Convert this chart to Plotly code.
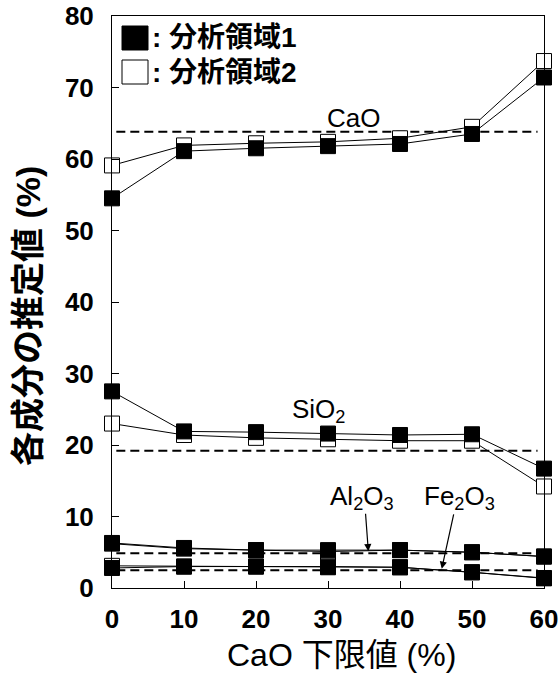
import plotly.graph_objects as go

# CaO lower limit (%) on the x axis
cao_limit = [0, 10, 20, 30, 40, 50, 60]

# Estimated component contents (%) for analysis region 1 and region 2
cao_r1 = [54.5, 61.1, 61.5, 61.8, 62.1, 63.5, 71.4]
cao_r2 = [59.1, 61.9, 62.2, 62.4, 62.9, 64.5, 73.7]
sio2_r1 = [27.5, 21.9, 21.8, 21.6, 21.4, 21.5, 16.7]
sio2_r2 = [23.0, 21.4, 21.0, 20.8, 20.6, 20.6, 14.2]
al2o3_r1 = [6.3, 5.6, 5.3, 5.3, 5.3, 5.0, 4.4]
al2o3_r2 = [6.2, 5.5, 5.3, 5.1, 5.3, 5.0, 4.4]
fe2o3_r1 = [2.8, 3.0, 3.0, 2.9, 2.9, 2.2, 1.35]
fe2o3_r2 = [3.1, 3.0, 3.0, 3.0, 2.9, 2.2, 1.4]

# Reference levels drawn as dashed lines
ref_levels = {"CaO": 63.8, "SiO2": 19.2, "Al2O3": 4.85, "Fe2O3": 2.5}

legend_labels = [": 分析領域1", ": 分析領域2"]
x_title = "CaO 下限値 (%)"
y_title = "各成分の推定値 (%)"
y_ticks = [0, 10, 20, 30, 40, 50, 60, 70, 80]
x_ticks = [0, 10, 20, 30, 40, 50, 60]

W, H = 560, 677
L, R, T, B = 112, 16, 16, 89
PW, PH = W - L - R, H - T - B

LAT = "Liberation Sans, Arial, Noto Sans CJK JP, sans-serif"
CJK = "Liberation Sans, Noto Sans CJK JP, sans-serif"


def px_x(p):
    return (p - L) / PW


def px_y(p):
    return (T + PH - p) / PH


fig = go.Figure()

region2 = [cao_r2, sio2_r2, al2o3_r2, fe2o3_r2]
region1 = [cao_r1, sio2_r1, al2o3_r1, fe2o3_r1]

for ys in region2:
    fig.add_trace(go.Scatter(
        x=cao_limit, y=ys, mode="lines+markers", cliponaxis=False,
        line=dict(color="black", width=1),
        marker=dict(symbol="square", size=15, color="white",
                    line=dict(color="black", width=1)),
        showlegend=False, hoverinfo="skip"))

for ys in region1:
    fig.add_trace(go.Scatter(
        x=cao_limit, y=ys, mode="lines+markers", cliponaxis=False,
        line=dict(color="black", width=1),
        marker=dict(symbol="square", size=15, color="black",
                    line=dict(color="black", width=1)),
        showlegend=False, hoverinfo="skip"))

shapes = []
for level in ref_levels.values():
    shapes.append(dict(type="line", xref="paper", yref="y",
                       x0=0.01, x1=0.985, y0=level, y1=level,
                       line=dict(color="black", width=2, dash="9px,5px"),
                       layer="below"))

# Legend swatches
shapes.append(dict(type="rect", xref="paper", yref="paper",
                   x0=px_x(122), x1=px_x(148), y0=px_y(50), y1=px_y(26),
                   fillcolor="black", line=dict(color="black", width=1)))
shapes.append(dict(type="rect", xref="paper", yref="paper",
                   x0=px_x(122), x1=px_x(148), y0=px_y(84), y1=px_y(60),
                   fillcolor="white", line=dict(color="black", width=1)))

annotations = []
for label, py in zip(legend_labels, [38, 72]):
    annotations.append(dict(
        text=f"<b>{label}</b>", xref="paper", yref="paper",
        x=px_x(150), y=px_y(py), xanchor="left", yanchor="middle",
        showarrow=False, font=dict(family=CJK, size=28, color="black")))

# Component labels
annotations += [
    dict(text="CaO", x=33.5, y=65.8, xanchor="center", yanchor="middle",
         showarrow=False, font=dict(family=LAT, size=26, color="black")),
    dict(text="SiO<sub>2</sub>", x=24.7, y=24.8, xanchor="left",
         yanchor="middle", showarrow=False,
         font=dict(family=LAT, size=26, color="black")),
    dict(text="Al<sub>2</sub>O<sub>3</sub>", x=30.0, y=12.6, xanchor="left",
         yanchor="middle", showarrow=False,
         font=dict(family=LAT, size=26, color="black")),
    dict(text="Fe<sub>2</sub>O<sub>3</sub>", x=43.0, y=12.6, xanchor="left",
         yanchor="middle", showarrow=False,
         font=dict(family=LAT, size=26, color="black")),
]

# Pointer arrows from labels to the Al2O3 and Fe2O3 reference lines
for (hx, hy, tx, ty) in [(35.6, ref_levels["Al2O3"] + 0.3, 35.2, 10.6),
                         (45.8, ref_levels["Fe2O3"] + 0.2, 47.5, 10.5)]:
    annotations.append(dict(
        text="", x=hx, y=hy, ax=tx, ay=ty, xref="x", yref="y",
        axref="x", ayref="y", showarrow=True, arrowhead=2,
        arrowsize=1.2, arrowwidth=1.2, arrowcolor="black"))

# Axis titles
annotations.append(dict(
    text=x_title, xref="paper", yref="paper", x=px_x(341), y=px_y(655),
    xanchor="center", yanchor="middle", showarrow=False,
    font=dict(family=CJK, size=32, color="black")))
annotations.append(dict(
    text=f"<b>{y_title}</b>", xref="paper", yref="paper", x=px_x(28),
    y=px_y(316), xanchor="center", yanchor="middle", textangle=-90,
    showarrow=False, font=dict(family=CJK, size=34, color="black")))

axis_common = dict(
    ticks="inside", ticklen=7, tickcolor="black", showline=True,
    linecolor="black", linewidth=1, mirror=True, showgrid=False,
    zeroline=False, automargin=False,
    tickfont=dict(family=LAT, size=26, color="black", weight="bold"),
)

fig.update_layout(
    width=W, height=H,
    margin=dict(l=L, r=R, t=T, b=B, autoexpand=False),
    paper_bgcolor="white", plot_bgcolor="white",
    showlegend=False,
    shapes=shapes, annotations=annotations,
    xaxis=dict(range=[0, 60], tickvals=x_ticks, ticklabelstandoff=8,
               **axis_common),
    yaxis=dict(range=[0, 80], tickvals=y_ticks, ticklabelstandoff=12,
               **axis_common),
)

fig.write_html("out.html")
